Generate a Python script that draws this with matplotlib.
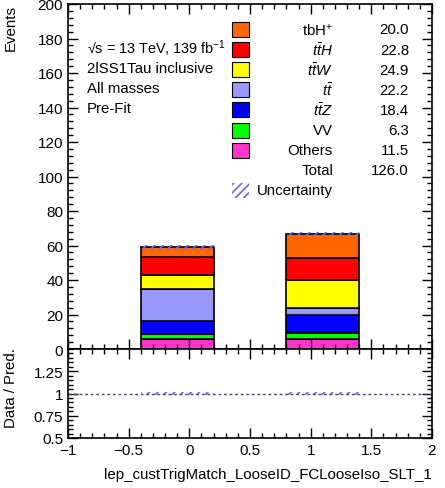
import matplotlib
matplotlib.use("Agg")
import matplotlib.pyplot as plt
import numpy as np
from matplotlib.patches import Rectangle
from matplotlib.ticker import MultipleLocator, AutoMinorLocator, FuncFormatter

plt.rcParams['font.family'] = ['Liberation Sans', 'DejaVu Sans']
plt.rcParams['mathtext.fontset'] = 'custom'
plt.rcParams['mathtext.rm'] = 'Liberation Sans'
plt.rcParams['mathtext.it'] = 'Liberation Sans:italic'
plt.rcParams['hatch.linewidth'] = 1.2

# two bins of the trigger-match variable
bin_centers = [-0.1, 1.1]
bin_width = 0.6

# stacked backgrounds, bottom to top
samples = ['Others', 'VV', 'ttZ', 'tt', 'ttW', 'ttH', 'tbH']
labels = {'tbH': r'tbH$^{+}$', 'ttH': r'$t\bar{t}H$', 'ttW': r'$t\bar{t}W$',
          'tt': r'$t\bar{t}$', 'ttZ': r'$t\bar{t}Z$', 'VV': 'VV', 'Others': 'Others'}
colors = {'tbH': '#ff6600', 'ttH': '#ff0000', 'ttW': '#ffff00', 'tt': '#9999ff',
          'ttZ': '#0000ff', 'VV': '#00ff00', 'Others': '#ff33cc'}
yields = {
    'Others': [5.73, 5.73],
    'VV': [2.90, 3.36],
    'ttZ': [7.6, 10.8],
    'tt': [18.4, 3.8],
    'ttW': [8.5, 16.4],
    'ttH': [10.2, 12.6],
    'tbH': [5.8, 14.2],
}
uncertainty = [1.2, 0.9]
legend_order = ['tbH', 'ttH', 'ttW', 'tt', 'ttZ', 'VV', 'Others']

FS = 10.8
TFS = 11

W, H = 445, 489
fig = plt.figure(figsize=(W / 100, H / 100), dpi=100)

def fpos(x, y):
    return x / W, 1 - y / H

ax = fig.add_axes([68 / W, 1 - 350 / H, 364 / W, 345 / H])
rax = fig.add_axes([68 / W, 1 - 439 / H, 364 / W, 89 / H], sharex=ax)

bottom = np.zeros(2)
for s in samples:
    vals = np.array(yields[s])
    ax.bar(bin_centers, vals, bin_width, bottom=bottom, color=colors[s],
           edgecolor='black', linewidth=1.2)
    bottom += vals
total = bottom
unc = np.array(uncertainty)

hatch_col = '#6666ff'
ax.bar(bin_centers, 2 * unc, bin_width, bottom=total - unc, fill=False,
       hatch='////', edgecolor=hatch_col, linewidth=0)

# ratio panel
rel = unc / total
rax.axhline(1.0, color='#444466', linestyle=(0, (2, 2)), linewidth=1.0)
rax.bar(bin_centers, 2 * rel, bin_width, bottom=1 - rel, fill=False,
        hatch='////', edgecolor=hatch_col, linewidth=0)

for a in (ax, rax):
    a.tick_params(which='both', direction='in', top=True, right=True,
                  labelsize=TFS, width=1.0)
    a.tick_params(which='major', length=7)
    a.tick_params(which='minor', length=3.5)
    for sp in a.spines.values():
        sp.set_linewidth(1.2)

ax.set_xlim(-1, 2)
ax.set_ylim(0, 200)
ax.yaxis.set_major_locator(MultipleLocator(20))
ax.yaxis.set_minor_locator(AutoMinorLocator(5))
ax.xaxis.set_major_locator(MultipleLocator(0.5))
ax.xaxis.set_minor_locator(MultipleLocator(0.1))
plt.setp(ax.get_xticklabels(), visible=False)
ax.set_ylabel('Events', loc='top', fontsize=FS)
ax.yaxis.set_label_coords(-0.137, 1.0)

rax.set_ylim(0.5, 1.5)
rax.set_yticks([0.5, 0.75, 1.0, 1.25])
rax.yaxis.set_minor_locator(MultipleLocator(0.05))
rax.yaxis.set_major_formatter(FuncFormatter(lambda v, p: '%g' % v))
rax.xaxis.set_major_formatter(FuncFormatter(lambda v, p: ('%g' % v).replace('-', '\u2212')))
rax.set_ylabel('Data / Pred.', fontsize=FS)
rax.yaxis.set_label_coords(-0.137, 0.57)
rax.set_xlabel('lep_custTrigMatch_LooseID_FCLooseIso_SLT_1', loc='right', fontsize=FS)
rax.xaxis.set_label_coords(1.0, -0.33)

# info text
fig.text(*fpos(87, 49), '\u221As = 13 TeV, 139 fb$^{-1}$', fontsize=10.4,
         ha='left', va='center')
info = ['2lSS1Tau inclusive', 'All masses', 'Pre-Fit']
for i, t in enumerate(info):
    fig.text(*fpos(87, 69 + 20 * i), t, fontsize=FS, ha='left', va='center')

# legend with yields
row0, step = 30.5, 20.1
for i, s in enumerate(legend_order):
    y = row0 + step * i
    x0, y0 = fpos(232, y + 7.5)
    fig.patches.append(Rectangle((x0, y0), 17 / W, 15 / H, transform=fig.transFigure,
                                 facecolor=colors[s], edgecolor='black', linewidth=0.8))
    fig.text(*fpos(333, y), labels[s], fontsize=FS, ha='right', va='center')
    fig.text(*fpos(409, y), '%.1f' % np.sum(yields[s]), fontsize=FS, ha='right', va='center')
y = row0 + step * len(legend_order)
fig.text(*fpos(333, y), 'Total', fontsize=FS, ha='right', va='center')
fig.text(*fpos(409, y), '%.1f' % total.sum(), fontsize=FS, ha='right', va='center')
y += step
x0, y0 = fpos(232, y + 7.5)
fig.patches.append(Rectangle((x0, y0), 17 / W, 15 / H, transform=fig.transFigure,
                             fill=False, hatch='////', edgecolor=hatch_col, linewidth=0))
fig.text(*fpos(333, y), 'Uncertainty', fontsize=FS, ha='right', va='center')

fig.savefig('out.png', dpi=100)
